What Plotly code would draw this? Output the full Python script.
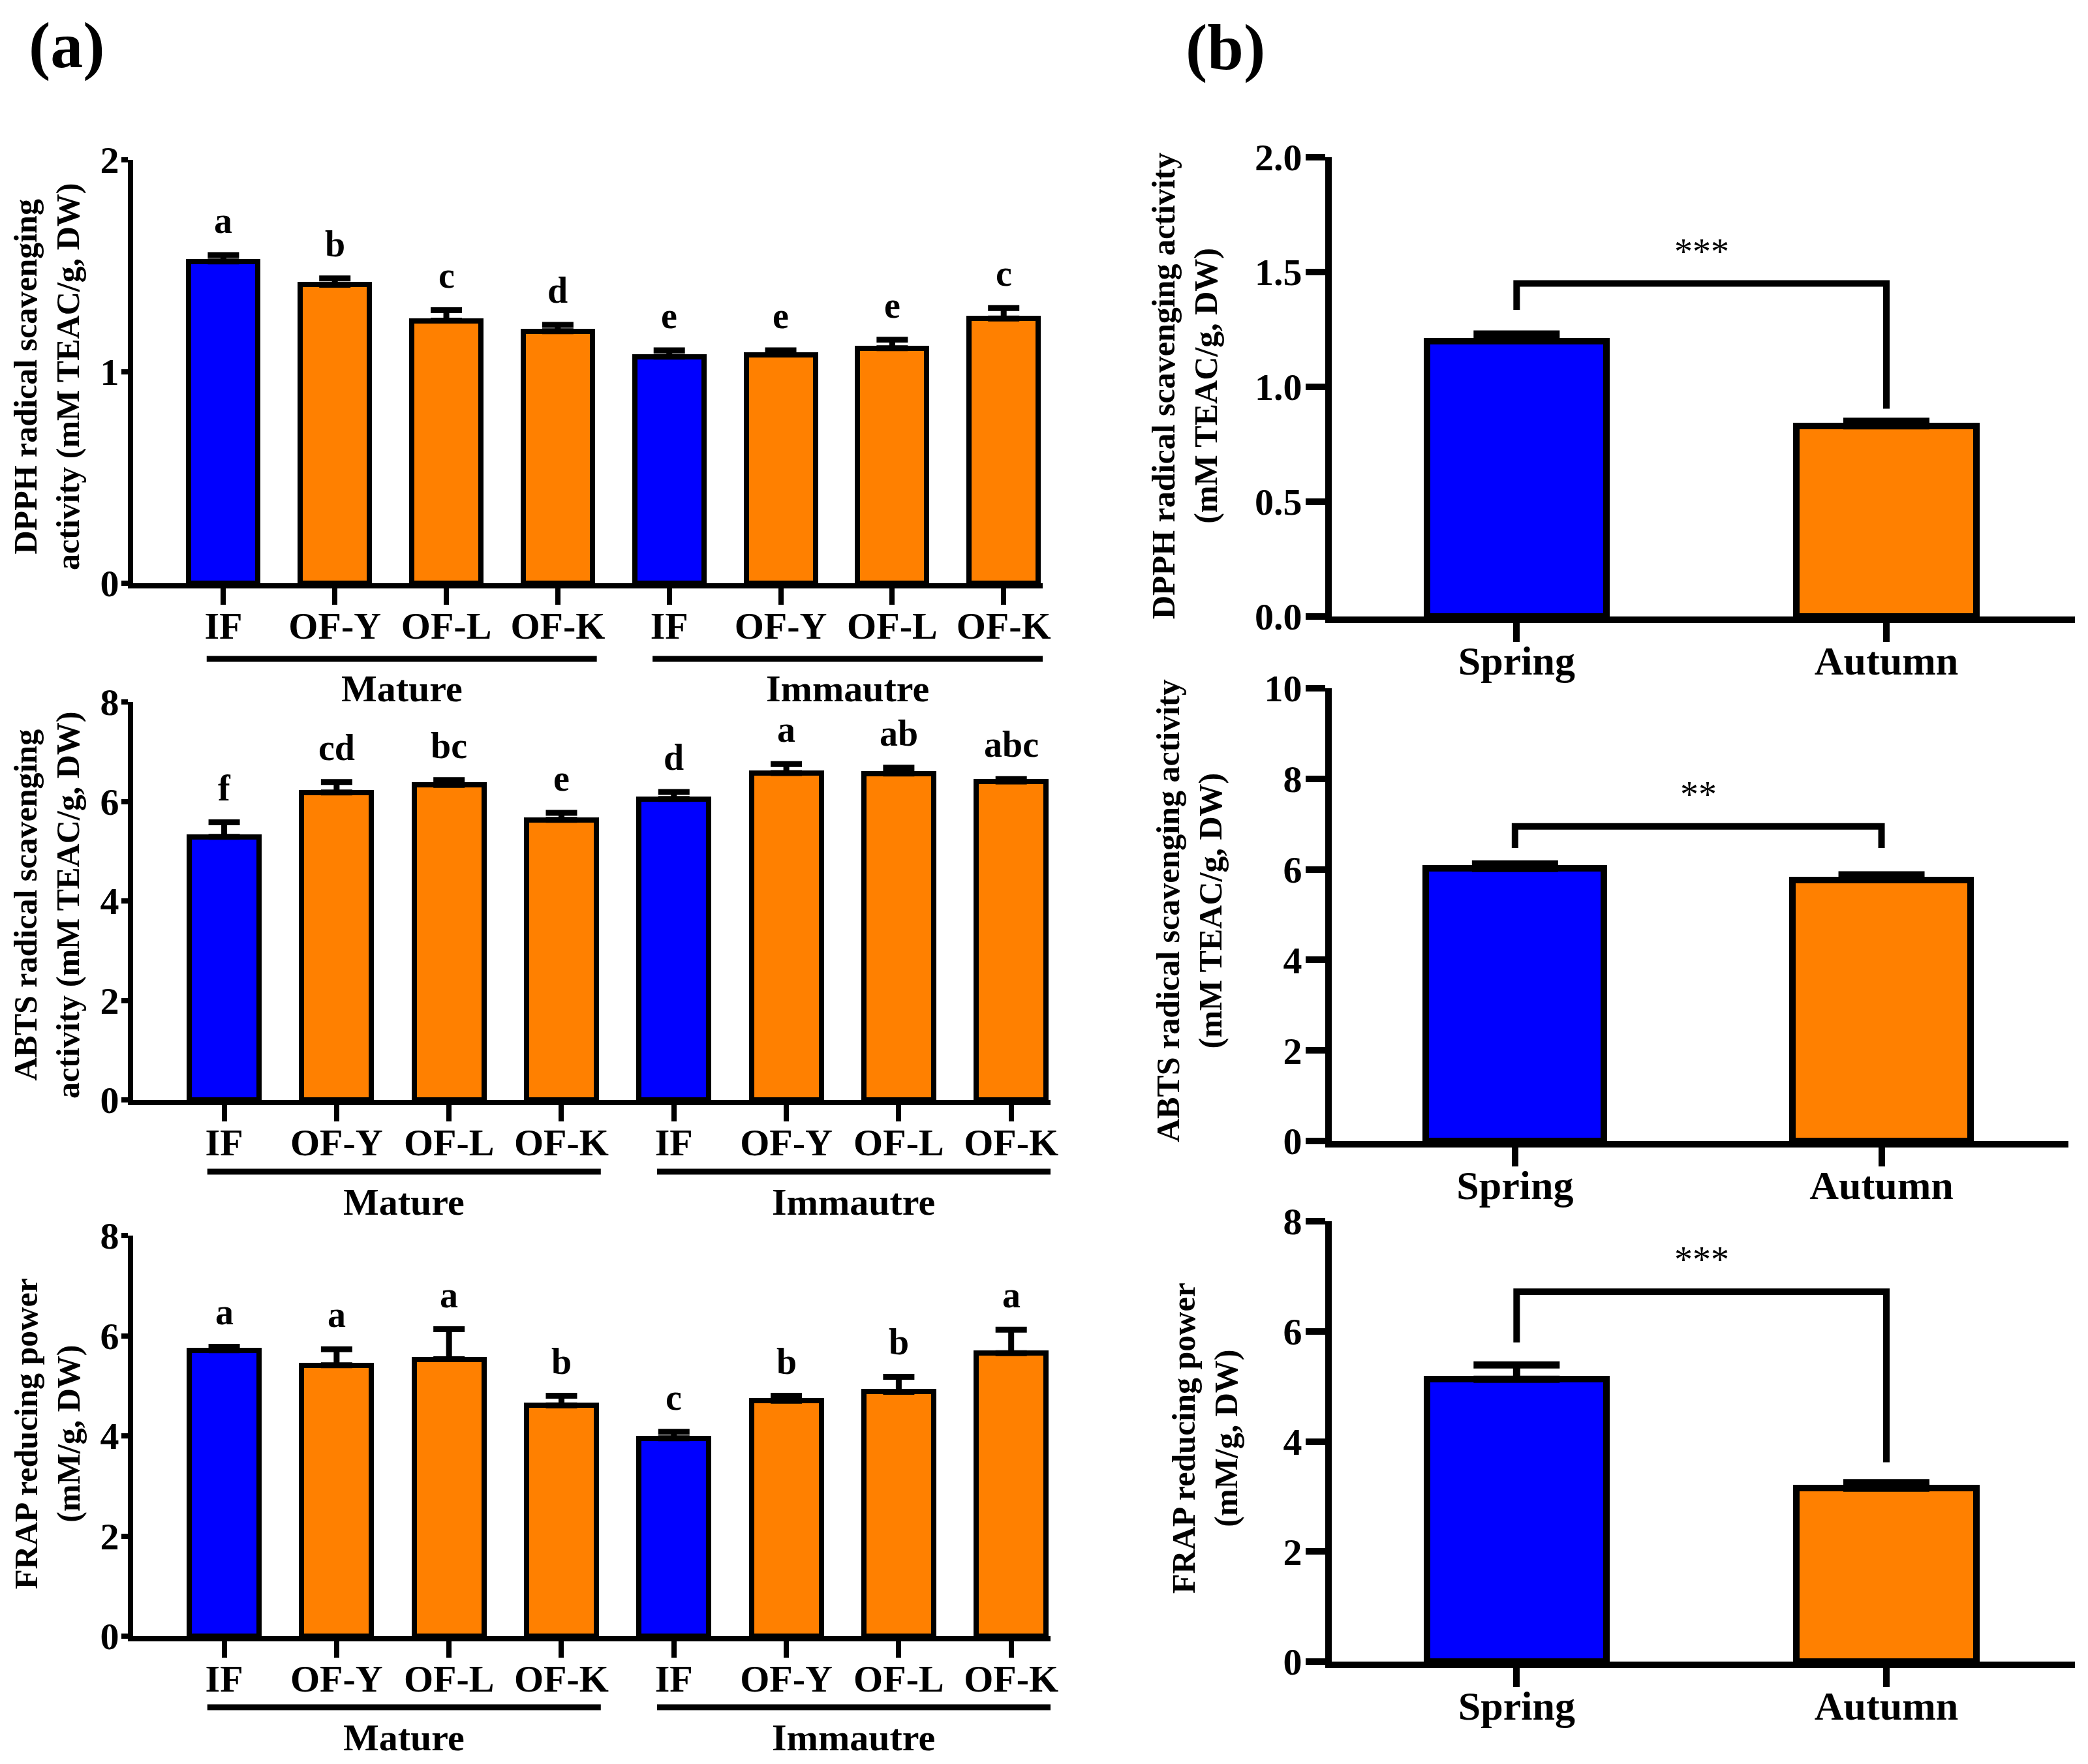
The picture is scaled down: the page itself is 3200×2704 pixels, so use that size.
import plotly.graph_objects as go

# ---- data ----
groups_a = ["IF", "OF-Y", "OF-L", "OF-K", "IF", "OF-Y", "OF-L", "OF-K"]
colors_a = ["#0000FF", "#FF8000", "#FF8000", "#FF8000", "#0000FF", "#FF8000", "#FF8000", "#FF8000"]

dpph_a = [1.52, 1.41, 1.24, 1.19, 1.07, 1.08, 1.11, 1.25]
dpph_a_err = [0.03, 0.03, 0.05, 0.03, 0.03, 0.02, 0.04, 0.05]
dpph_a_letters = ["a", "b", "c", "d", "e", "e", "e", "c"]

abts_a = [5.29, 6.18, 6.33, 5.63, 6.05, 6.57, 6.56, 6.40]
abts_a_err = [0.29, 0.21, 0.10, 0.14, 0.14, 0.18, 0.12, 0.05]
abts_a_letters = ["f", "cd", "bc", "e", "d", "a", "ab", "abc"]

frap_a = [5.71, 5.41, 5.53, 4.61, 3.95, 4.70, 4.88, 5.65]
frap_a_err = [0.07, 0.32, 0.60, 0.19, 0.13, 0.10, 0.30, 0.47]
frap_a_letters = ["a", "a", "a", "b", "c", "b", "b", "a"]

seasons = ["Spring", "Autumn"]
colors_b = ["#0000FF", "#FF8000"]

dpph_b = [1.20, 0.83]
dpph_b_err = [0.03, 0.02]
abts_b = [6.02, 5.77]
abts_b_err = [0.10, 0.11]
frap_b = [5.13, 3.15]
frap_b_err = [0.26, 0.10]

# significance brackets: [top, left leg end, right leg end], label
dpph_b_bracket = [1.45, 1.335, 0.905]
abts_b_bracket = [6.95, 6.47, 6.47]
frap_b_bracket = [6.72, 5.80, 3.62]
dpph_b_sig = "***"
abts_b_sig = "**"
frap_b_sig = "***"

group_names = ["Mature", "Immautre"]
group_spans = [[-0.15, 3.35], [3.85, 7.35]]

# ---- layout helpers ----
W, H = 3200, 2704
PAD = 8  # default body margin of the html page
FW, FH = W - 2 * PAD, H - 2 * PAD
FONT = "Liberation Serif"


def px_x(p):
    return (p - PAD) / FW


def px_y(p):
    return 1 - (p - PAD) / FH


fig = go.Figure()


def panel(n, xs, vals, errs, colors, ticktext, xdom, ydom, yrange, dtick, xrange,
          bw, capw, lw, ticklen_x, ticklen_y, tickfont_x, tickfont_y, standoff_x, standoff_y,
          yfmt=None):
    fig.add_trace(go.Bar(
        x=xs, y=vals, width=bw,
        marker=dict(color=colors, line=dict(color="black", width=lw)),
        error_y=dict(type="data", array=errs, arrayminus=[0] * len(vals), symmetric=False,
                     color="black", thickness=lw + 1, width=capw),
        xaxis=f"x{n}", yaxis=f"y{n}", showlegend=False, hoverinfo="skip",
    ))
    sfx = "" if n == 1 else str(n)
    fig.layout[f"xaxis{sfx}"] = dict(
        domain=[px_x(xdom[0]), px_x(xdom[1])], anchor=f"y{n}", range=xrange,
        tickmode="array", tickvals=xs, ticktext=ticktext, automargin=False,
        showline=True, linecolor="black", linewidth=lw, ticks="outside",
        ticklen=ticklen_x, tickwidth=lw, tickcolor="black", showgrid=False, zeroline=False,
        ticklabelstandoff=standoff_x,
        tickfont=dict(family=FONT, size=tickfont_x, color="black", weight="bold"),
        fixedrange=True,
    )
    fig.layout[f"yaxis{sfx}"] = dict(
        domain=[px_y(ydom[0]), px_y(ydom[1])], anchor=f"x{n}", range=yrange, dtick=dtick,
        tick0=0, tickformat=yfmt, automargin=False,
        showline=True, linecolor="black", linewidth=lw, ticks="outside",
        ticklen=ticklen_y, tickwidth=lw, tickcolor="black", showgrid=False, zeroline=False,
        ticklabelstandoff=standoff_y,
        tickfont=dict(family=FONT, size=tickfont_y, color="black", weight="bold"),
        fixedrange=True,
    )


def letters(n, xs, vals, errs, labels):
    for x, v, e, t in zip(xs, vals, errs, labels):
        fig.add_annotation(x=x, y=v + e, xref=f"x{n}", yref=f"y{n}", text=t,
                           showarrow=False, xanchor="center", yanchor="bottom", yshift=20,
                           font=dict(family=FONT, size=56, color="black", weight="bold"))


def groups(n, line_y, label_y):
    for name, span in zip(group_names, group_spans):
        fig.add_shape(type="line", xref=f"x{n}", yref="paper",
                      x0=span[0], x1=span[1], y0=px_y(line_y), y1=px_y(line_y),
                      line=dict(color="black", width=9))
        fig.add_annotation(x=(span[0] + span[1]) / 2, y=px_y(label_y), xref=f"x{n}", yref="paper",
                           text=name, showarrow=False, xanchor="center", yanchor="middle",
                           font=dict(family=FONT, size=58, color="black", weight="bold"))


def bracket(n, br, sig):
    top, left, right = br
    fig.add_shape(type="path", xref=f"x{n}", yref=f"y{n}",
                  path=f"M 0,{left} L 0,{top} L 1,{top} L 1,{right}",
                  line=dict(color="black", width=10))
    fig.add_annotation(x=0.5, y=top, xref=f"x{n}", yref=f"y{n}", text=sig,
                       showarrow=False, xanchor="center", yanchor="bottom", yshift=16,
                       font=dict(family=FONT, size=56, color="black"))


def ytitle(text, x, y, size):
    fig.add_annotation(x=px_x(x), y=px_y(y), xref="paper", yref="paper", text=text,
                       textangle=-90, showarrow=False, align="center",
                       xanchor="center", yanchor="middle",
                       font=dict(family=FONT, size=size, color="black", weight="bold"))


xa = list(range(len(groups_a)))
xb = list(range(len(seasons)))
xr_a = [-0.81, 7.35]
xr_b = [-0.5, 1.51]

# panel (a)
panel(1, xa, dpph_a, dpph_a_err, colors_a, groups_a, [204, 1598], [894, 245], [0, 2], 1, xr_a,
      0.62, 24, 8, 25, 10, 58, 58, -18, -8)
panel(2, xa, abts_a, abts_a_err, colors_a, groups_a, [204, 1610], [1686, 1076], [0, 8], 2, xr_a,
      0.62, 24, 8, 25, 10, 58, 58, -18, -8)
panel(3, xa, frap_a, frap_a_err, colors_a, groups_a, [204, 1610], [2508, 1894], [0, 8], 2, xr_a,
      0.62, 24, 8, 25, 10, 58, 58, -18, -8)
# panel (b)
panel(4, xb, dpph_b, dpph_b_err, colors_b, seasons, [2041, 3180], [945, 241], [0, 2], 0.5, xr_b,
      0.486, 66, 10, 29, 30, 62, 58, -24, -6, ".1f")
panel(5, xb, abts_b, abts_b_err, colors_b, seasons, [2041, 3170], [1749, 1055], [0, 10], 2, xr_b,
      0.486, 66, 10, 29, 30, 62, 58, -24, -6)
panel(6, xb, frap_b, frap_b_err, colors_b, seasons, [2041, 3180], [2547, 1872], [0, 8], 2, xr_b,
      0.486, 66, 10, 29, 30, 62, 58, -24, -6)

letters(1, xa, dpph_a, dpph_a_err, dpph_a_letters)
letters(2, xa, abts_a, abts_a_err, abts_a_letters)
letters(3, xa, frap_a, frap_a_err, frap_a_letters)

groups(1, 1010, 1056)
groups(2, 1796, 1842)
groups(3, 2617, 2663)

bracket(4, dpph_b_bracket, dpph_b_sig)
bracket(5, abts_b_bracket, abts_b_sig)
bracket(6, frap_b_bracket, frap_b_sig)

ytitle("DPPH radical scavenging<br>activity (mM TEAC/g, DW)", 72, 578, 50)
ytitle("ABTS radical scavenging<br>activity (mM TEAC/g, DW)", 72, 1388, 50)
ytitle("FRAP reducing power<br>(mM/g, DW)", 72, 2198, 50)
ytitle("DPPH radical scavenging activity<br>(mM TEAC/g, DW)", 1815, 592, 50)
ytitle("ABTS radical scavenging activity<br>(mM TEAC/g, DW)", 1822, 1396, 50)
ytitle("FRAP reducing power<br>(mM/g, DW)", 1846, 2204, 50)

# panel letters
for t, x, y in [("(a)", 102, 70), ("(b)", 1878, 72)]:
    fig.add_annotation(x=px_x(x), y=px_y(y), xref="paper", yref="paper", text=t,
                       showarrow=False, xanchor="center", yanchor="middle",
                       font=dict(family=FONT, size=100, color="black", weight="bold"))

fig.update_layout(
    width=FW, height=FH, margin=dict(l=0, r=0, t=0, b=0),
    paper_bgcolor="white", plot_bgcolor="white",
    bargap=0, font=dict(family=FONT, color="black"),
)

fig.write_html("out.html")
